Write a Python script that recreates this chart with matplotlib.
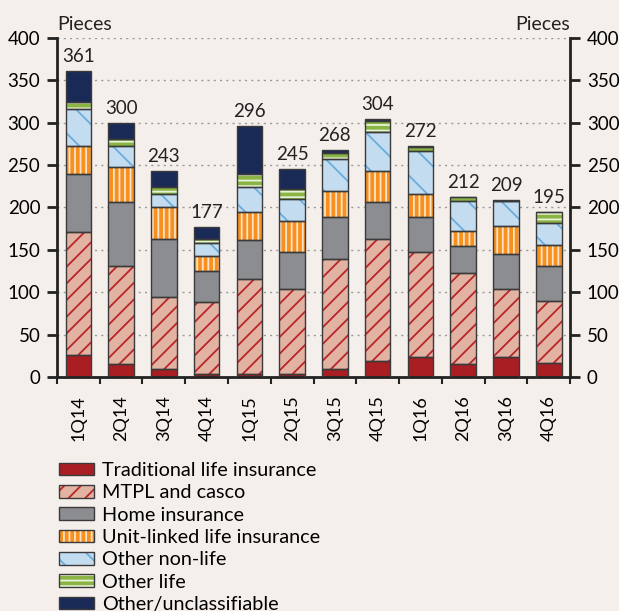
import numpy as np
import matplotlib
matplotlib.use("Agg")
import matplotlib.pyplot as plt
from matplotlib.patches import Patch

plt.rcParams['font.family'] = ['Lato', 'DejaVu Sans']
plt.rcParams['hatch.linewidth'] = 1.3

quarters = ["1Q14", "2Q14", "3Q14", "4Q14", "1Q15", "2Q15",
            "3Q15", "4Q15", "1Q16", "2Q16", "3Q16", "4Q16"]
traditional_life = [26, 15, 9, 4, 4, 3, 10, 19, 24, 15, 24, 17]
mtpl_casco = [145, 116, 85, 85, 111, 101, 129, 144, 124, 108, 80, 73]
home = [68, 75, 69, 36, 47, 44, 50, 43, 41, 31, 41, 41]
unit_linked = [34, 42, 38, 18, 33, 36, 30, 37, 27, 18, 33, 25]
other_non_life = [43, 25, 15, 15, 29, 26, 38, 46, 50, 36, 30, 26]
other_life = [8, 8, 8, 5, 16, 12, 7, 13, 5, 4, 0, 13]
other_unclass = [37, 19, 19, 14, 56, 23, 4, 2, 1, 0, 1, 0]
totals = [361, 300, 243, 177, 296, 245, 268, 304, 272, 212, 209, 195]

series = [
    ("Traditional life insurance", traditional_life, "#A81E23", None, "#A81E23"),
    ("MTPL and casco", mtpl_casco, "#E2B2A2", "//", "#B8262A"),
    ("Home insurance", home, "#8C8D91", None, "#8C8D91"),
    ("Unit-linked life insurance", unit_linked, "#F7901E", "|||", "#FCE3C8"),
    ("Other non-life", other_non_life, "#C4DCF0", "\\", "#6AADDD"),
    ("Other life", other_life, "#8AB443", "---", "#E8F2D8"),
    ("Other/unclassifiable", other_unclass, "#1A2A56", None, "#1A2A56"),
]

bg = "#F5EFEB"
edge = "#3A3A3A"

fig = plt.figure(figsize=(6.19, 6.11), dpi=100, facecolor=bg)
ax = fig.add_axes([0.092, 0.383, 0.829, 0.555], facecolor=bg)

x = np.arange(len(quarters))
bottom = np.zeros(len(quarters))
handles = []
for name, vals, face, hatch, hcol in series:
    vals = np.array(vals, dtype=float)
    # hatched fill first, then a plain outline on top
    ax.bar(x, vals, 0.6, bottom=bottom, color=face, hatch=hatch,
           edgecolor=hcol, linewidth=0, zorder=2)
    ax.bar(x, vals, 0.6, bottom=bottom, fill=False,
           edgecolor=edge, linewidth=1, zorder=3)
    bottom += vals
    handles.append((Patch(facecolor=face, hatch=hatch, edgecolor=hcol, linewidth=0),
                    Patch(fill=False, edgecolor=edge, linewidth=1)))

for xi, t in zip(x, totals):
    ax.text(xi, t + 7, str(t), ha="center", va="bottom", fontsize=13.5, color="#222222")

ax.set_xlim(-0.5, len(quarters) - 0.5)
ax.set_ylim(0, 400)
ax.set_yticks(np.arange(0, 401, 50))
ax.set_xticks(x)
ax.set_xticklabels(quarters, rotation=90, fontsize=13)
ax.set_xticks(np.arange(-0.5, len(quarters)), minor=True)
ax.tick_params(axis="x", which="major", length=0, pad=13)
ax.tick_params(axis="x", which="minor", length=5, width=1.5, direction="out", color="#222222")
ax.tick_params(axis="y", which="major", left=True, right=True, labelleft=True,
               labelright=True, length=7, width=2, direction="out",
               labelsize=13.5, color="#222222", pad=5)

ax.yaxis.grid(True, linestyle=(0, (1.5, 3)), color="#999999", linewidth=1, zorder=0)
ax.set_axisbelow(True)

for s in ["left", "right", "bottom"]:
    ax.spines[s].set_linewidth(2)
    ax.spines[s].set_color("#222222")
ax.spines["top"].set_visible(False)

fig.text(0.092, 0.951, "Pieces", ha="left", va="baseline", fontsize=14, color="#222222")
fig.text(0.921, 0.951, "Pieces", ha="right", va="baseline", fontsize=14, color="#222222")

fig.legend(handles, [s[0] for s in series], loc="upper left",
           bbox_to_anchor=(0.0953, 0.244), frameon=False, fontsize=14.3,
           handlelength=1.76, handleheight=0.6, handletextpad=0.4,
           labelspacing=0.27, borderaxespad=0, borderpad=0)

fig.savefig("out.png", dpi=100, facecolor=bg)
